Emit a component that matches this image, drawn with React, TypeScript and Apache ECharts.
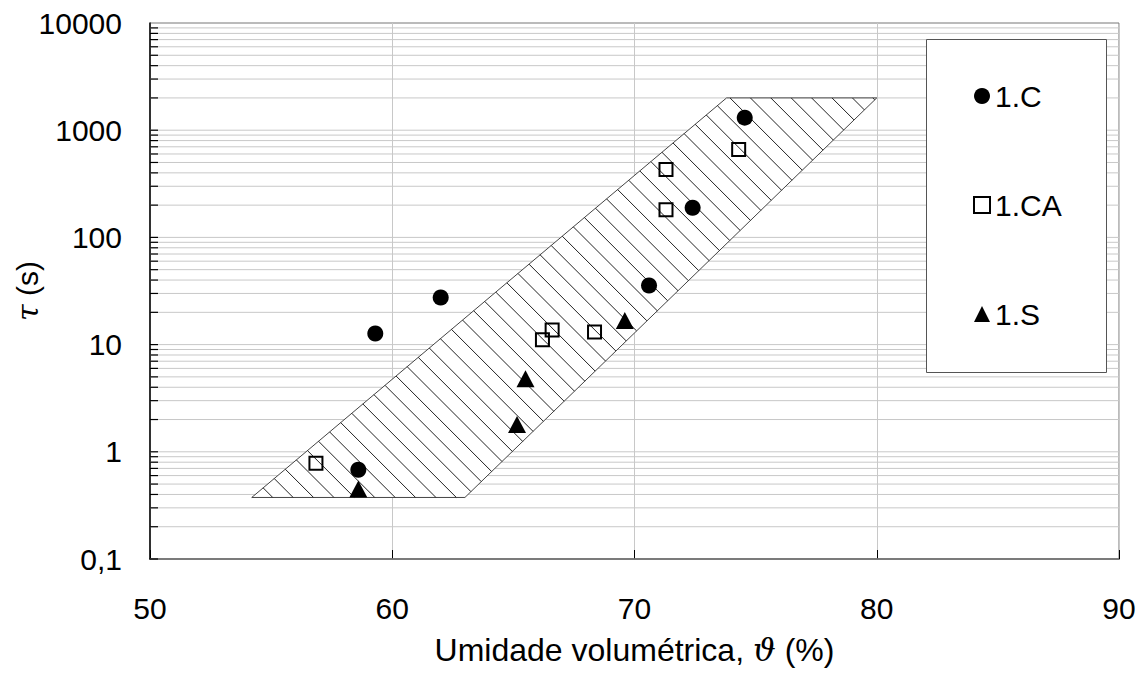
import React, { useEffect, useRef } from "react";
import * as echarts from "echarts";

const xMin = 50;
const xMax = 90;
const yMin = 0.1;
const yMax = 10000;

// grid decades and sub-multipliers for the log axis
const decades = [0.1, 1, 10, 100, 1000];
const multipliers = [1, 2, 3, 4, 5, 6, 7, 8, 9];

// hatched band (theta %, tau s)
const bandX = [54.2, 63.0, 80.0, 73.8];
const bandY = [0.375, 0.375, 2000, 2000];

// series 1.C
const cX = [59.3, 62.0, 58.6, 70.6, 72.4, 74.55];
const cY = [12.7, 27.5, 0.68, 35.6, 189, 1310];
// series 1.CA
const caX = [56.85, 66.2, 66.6, 68.35, 71.3, 71.3, 74.3];
const caY = [0.78, 11.1, 13.7, 13.1, 181, 429, 660];
// series 1.S
const sX = [58.6, 65.15, 65.5, 69.6];
const sY = [0.45, 1.8, 4.8, 16.8];

const FONT = "'Liberation Sans', Arial, sans-serif";
const FS = 30;
const TFS = 32;

const yGridValues: number[] = [];
decades.forEach((d) => multipliers.forEach((m) => yGridValues.push(d * m)));

export default function App() {
  const ref = useRef<HTMLDivElement>(null);
  useEffect(() => {
    if (!ref.current) return;
    const chart = echarts.init(ref.current, undefined, { renderer: "svg" });
    const zip = (xs: number[], ys: number[]) => xs.map((x, i) => [x, ys[i]]);

    const option: any = {
      animation: false,
      backgroundColor: "#fff",
      textStyle: { fontFamily: FONT },
      grid: {
        left: 150,
        top: 23,
        right: 24,
        bottom: 129,
        containLabel: false,
        outerBoundsMode: "none",
        show: true,
        borderColor: "#777",
        borderWidth: 1,
        backgroundColor: "transparent",
      },
      xAxis: {
        type: "value",
        min: xMin,
        max: xMax,
        interval: 10,
        name: "Umidade volumétrica, {i|ϑ} (%)",
        nameLocation: "middle",
        nameGap: 75,
        nameMoveOverlap: false,
        nameTextStyle: {
          fontSize: TFS,
          color: "#000",
          fontFamily: FONT,
          rich: {
            i: { fontSize: TFS, fontStyle: "italic", fontFamily: "'DejaVu Serif', serif", color: "#000" },
          },
        },
        axisLine: { show: true, onZero: false, lineStyle: { color: "#000", width: 1.5 } },
        axisTick: { show: true, inside: true, length: 9, lineStyle: { color: "#000", width: 1 } },
        axisLabel: { fontSize: FS, color: "#000", margin: 34, fontFamily: FONT },
        splitLine: { show: true, lineStyle: { color: "#c8c8c8", width: 1 } },
      },
      yAxis: {
        type: "log",
        logBase: 10,
        min: yMin,
        max: yMax,
        name: "{i|τ} (s)",
        nameLocation: "middle",
        nameRotate: 90,
        nameGap: 108,
        nameMoveOverlap: false,
        nameTextStyle: {
          fontSize: FS,
          color: "#000",
          fontFamily: FONT,
          rich: {
            i: { fontSize: FS, fontStyle: "italic", fontFamily: "'DejaVu Serif', serif", color: "#000" },
          },
        },
        axisLine: { show: true, lineStyle: { color: "#000", width: 1.5 } },
        axisTick: { show: false },
        axisLabel: {
          fontSize: FS,
          color: "#000",
          margin: 28,
          fontFamily: FONT,
          formatter: (v: number) => (v < 1 ? String(Math.round(v * 10) / 10).replace(".", ",") : String(Math.round(v))),
        },
        splitLine: { show: false },
      },
      legend: {
        orient: "vertical",
        left: 968,
        top: 76,
        itemGap: 79,
        itemWidth: 16,
        itemHeight: 16,
        z: 10,
        textStyle: { fontSize: FS, color: "#000", fontFamily: FONT },
        data: ["1.C", "1.CA", "1.S"],
      },
      graphic: [
        {
          type: "rect",
          left: 926,
          top: 39,
          z: 6,
          shape: { width: 180, height: 333 },
          style: { fill: "#fff", stroke: "#555", lineWidth: 1 },
        },
      ],
      series: [
        {
          type: "custom",
          name: "grid",
          z: 1,
          silent: true,
          data: yGridValues.map((v) => [xMin, v]),
          encode: { x: 0, y: 1 },
          renderItem: (params: any, api: any) => {
            const p = api.coord([api.value(0), api.value(1)]);
            const cs = params.coordSys;
            return {
              type: "group",
              children: [
                {
                  type: "line",
                  shape: { x1: cs.x, y1: p[1], x2: cs.x + cs.width, y2: p[1] },
                  style: { stroke: "#c8c8c8", lineWidth: 1 },
                },
                {
                  type: "line",
                  shape: { x1: cs.x, y1: p[1], x2: cs.x + 8, y2: p[1] },
                  style: { stroke: "#000", lineWidth: 1.2 },
                },
              ],
            };
          },
        },
        {
          type: "custom",
          name: "band",
          z: 2,
          silent: true,
          data: [[bandX[0], bandY[0]]],
          encode: { x: 0, y: 1 },
          renderItem: (_params: any, api: any) => {
            const pts = bandX.map((x, i) => api.coord([x, bandY[i]]));
            const cs = pts.map((p: number[]) => p[0] - p[1]);
            const cmin = Math.min(...cs);
            const cmax = Math.max(...cs);
            const step = 20.4;
            const lines: any[] = [];
            for (let c = cmin + 21; c < cmax; c += step) {
              const hits: number[][] = [];
              for (let i = 0; i < pts.length; i++) {
                const a = pts[i];
                const b = pts[(i + 1) % pts.length];
                const f1 = a[0] - a[1] - c;
                const f2 = b[0] - b[1] - c;
                if (f1 * f2 <= 0 && f1 !== f2) {
                  const t = f1 / (f1 - f2);
                  hits.push([a[0] + t * (b[0] - a[0]), a[1] + t * (b[1] - a[1])]);
                }
              }
              if (hits.length >= 2) {
                hits.sort((u, v) => u[0] - v[0]);
                const h0 = hits[0];
                const h1 = hits[hits.length - 1];
                lines.push({
                  type: "line",
                  shape: { x1: h0[0], y1: h0[1], x2: h1[0], y2: h1[1] },
                  style: { stroke: "#222", lineWidth: 1 },
                });
              }
            }
            return {
              type: "group",
              children: [
                {
                  type: "polygon",
                  shape: { points: pts },
                  style: { fill: "#fff", stroke: "#444", lineWidth: 1 },
                },
                ...lines,
              ],
            };
          },
        },
        {
          type: "scatter",
          name: "1.C",
          z: 3,
          symbol: "circle",
          symbolSize: 16,
          itemStyle: { color: "#000", opacity: 1 },
          data: zip(cX, cY),
        },
        {
          type: "scatter",
          name: "1.CA",
          z: 3,
          symbol: "rect",
          symbolSize: 13,
          itemStyle: { color: "rgba(0,0,0,0)", borderColor: "#000", borderWidth: 2, opacity: 1 },
          data: zip(caX, caY),
        },
        {
          type: "scatter",
          name: "1.S",
          z: 3,
          symbol: "triangle",
          symbolSize: [18, 17],
          itemStyle: { color: "#000", opacity: 1 },
          data: zip(sX, sY),
        },
      ],
    };
    chart.setOption(option);
    return () => chart.dispose();
  }, []);
  return (
    <div
      ref={ref}
      style={{ position: "fixed", left: 0, top: 0, width: 1143, height: 688, background: "#fff" }}
    />
  );
}
